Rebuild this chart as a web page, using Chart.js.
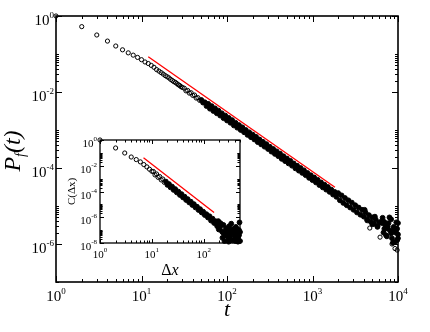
<!DOCTYPE html>
<html>
<head>
<meta charset="utf-8">
<script src="https://cdn.jsdelivr.net/npm/chart.js@4.4.1/dist/chart.umd.min.js"></script>
<style>
  body { margin: 0; background: #fff; }
  #wrap { position: relative; width: 430px; height: 332px; }
  #main { position: absolute; left: 0; top: 0; }
  #inset { position: absolute; left: 60px; top: 125px; }
</style>
</head>
<body>
<div id="wrap">
  <canvas id="main" width="430" height="332"></canvas>
  <canvas id="inset" width="190" height="160"></canvas>
</div>
<script>
// main panel: P_f(t), values read as log10 of t and of P
const mainLogT = [
  0, 0.301, 0.477, 0.602, 0.699, 0.778, 0.845, 0.903, 0.954, 1,
  1.041, 1.079, 1.114, 1.146, 1.176, 1.204, 1.23, 1.255, 1.279, 1.301,
  1.322, 1.342, 1.362, 1.38, 1.398, 1.415, 1.431, 1.447, 1.462, 1.477,
  1.50, 1.52, 1.54, 1.56, 1.58, 1.60, 1.62, 1.64, 1.66, 1.68,
  1.70, 1.72, 1.74, 1.76, 1.78, 1.80, 1.82, 1.84, 1.86, 1.88,
  1.90, 1.92, 1.94, 1.96, 1.98, 2.00, 2.02, 2.04, 2.06, 2.08,
  2.10, 2.12, 2.14, 2.16, 2.18, 2.20, 2.22, 2.24, 2.26, 2.28,
  2.30, 2.32, 2.34, 2.36, 2.38, 2.40, 2.42, 2.44, 2.46, 2.48,
  2.50, 2.52, 2.54, 2.56, 2.58, 2.60, 2.62, 2.64, 2.66, 2.68,
  2.70, 2.72, 2.74, 2.76, 2.78, 2.80, 2.82, 2.84, 2.86, 2.88,
  2.90, 2.92, 2.94, 2.96, 2.98, 3.00, 3.02, 3.04, 3.06, 3.08,
  3.10, 3.12, 3.14, 3.16, 3.18, 3.20, 3.22, 3.24, 3.26, 3.28,
  3.30, 3.32, 3.34, 3.36, 3.38, 3.40, 3.42, 3.44, 3.46, 3.48,
  3.50, 3.52, 3.54, 3.56, 3.58, 3.60, 3.62, 3.64, 3.66, 3.68,
  3.70, 3.72, 3.74, 3.76, 3.78, 3.80, 3.82, 3.84, 3.86, 3.88,
  3.90, 3.92, 3.94, 3.96, 3.98, 4.00,
  3.61, 3.64, 3.70, 3.73, 3.76, 3.81, 3.83, 3.84, 3.85, 3.87, 3.88, 3.89,
  3.91, 3.92, 3.93, 3.95, 3.96, 3.97, 3.99, 3.99, 4.0, 4.0
];
const mainLogP = [
  0, -0.28, -0.50, -0.66, -0.79, -0.89, -0.97, -1.03, -1.09, -1.15,
  -1.21, -1.25, -1.30, -1.35, -1.41, -1.45, -1.49, -1.53, -1.57, -1.60,
  -1.63, -1.67, -1.70, -1.73, -1.75, -1.78, -1.81, -1.83, -1.86, -1.88,
  -1.90, -1.97, -1.96, -2.03, -2.02, -2.09, -2.08, -2.16, -2.15, -2.22,
  -2.21, -2.28, -2.27, -2.37, -2.31, -2.44, -2.37, -2.50, -2.43, -2.56,
  -2.49, -2.62, -2.56, -2.69, -2.62, -2.75, -2.68, -2.81, -2.74, -2.88,
  -2.81, -2.94, -2.87, -3.00, -2.93, -3.06, -3.00, -3.13, -3.06, -3.19,
  -3.12, -3.25, -3.18, -3.32, -3.25, -3.38, -3.31, -3.44, -3.37, -3.50,
  -3.44, -3.57, -3.50, -3.63, -3.56, -3.69, -3.62, -3.76, -3.69, -3.82,
  -3.75, -3.88, -3.81, -3.94, -3.88, -4.01, -3.94, -4.07, -4.00, -4.13,
  -4.06, -4.19, -4.13, -4.26, -4.19, -4.32, -4.25, -4.38, -4.31, -4.45,
  -4.38, -4.51, -4.44, -4.57, -4.50, -4.63, -4.57, -4.70, -4.63, -4.76,
  -4.66, -4.85, -4.72, -4.92, -4.79, -4.98, -4.85, -5.04, -4.91, -5.10,
  -4.98, -5.17, -5.04, -5.23, -5.10, -5.28, -5.17, -5.35, -5.24, -5.41,
  -5.30, -5.47, -5.36, -5.53, -5.43, -5.42, -5.31, -5.60, -5.77, -5.54,
  -5.30, -5.72, -5.97, -5.61, -5.43, -5.85,
  -5.10, -5.38, -5.48, -5.28, -5.55, -5.45, -5.70, -5.42, -5.50, -5.80, -5.60, -5.45,
  -5.65, -5.35, -5.85, -5.55, -5.95, -5.70, -5.90, -5.60, -5.45, -5.75
];
// isolated circles under the tail
const mainOutLogT = [3.67, 3.79, 3.93, 3.965, 3.99];
const mainOutLogP = [-5.58, -5.82, -6.00, -6.12, -6.16];
// red guide line (t, P)
const mainGuideT = [12, 1830];
const mainGuideP = [8.5e-2, 3.1e-5];

// inset: C(dx), values as log10
const insetLogX = [
  0, 0.301, 0.477, 0.602, 0.699, 0.778, 0.845, 0.903, 0.954, 1,
  1.03, 1.06, 1.09, 1.12, 1.15, 1.18, 1.21, 1.24, 1.27, 1.30,
  1.33, 1.36, 1.39, 1.42, 1.45, 1.48, 1.51, 1.54, 1.57, 1.60,
  1.63, 1.66, 1.69, 1.72, 1.75, 1.78, 1.81, 1.84, 1.87, 1.90,
  1.93, 1.96, 1.99, 2.02, 2.05, 2.08, 2.11, 2.14, 2.17, 2.20,
  2.23, 2.26, 2.29, 2.32, 2.35, 2.38, 2.41, 2.44, 2.47, 2.50,
  2.53, 2.56, 2.59, 2.62, 2.65, 2.68,
  2.70, 2.69, 2.66, 2.58, 2.52, 2.45, 2.67, 2.40, 2.55,
  2.25, 2.28, 2.31, 2.34, 2.37, 2.43, 2.46, 2.49, 2.51, 2.54,
  2.57, 2.60, 2.63, 2.66, 2.68, 2.70, 2.64, 2.61, 2.48, 2.36
];
const insetLogC = [
  0, -0.62, -1.01, -1.32, -1.52, -1.70, -1.91, -2.09, -2.27, -2.43,
  -2.45, -2.71, -2.64, -2.90, -2.84, -3.10, -3.03, -3.29, -3.23, -3.49,
  -3.42, -3.68, -3.62, -3.88, -3.81, -4.07, -4.01, -4.27, -4.20, -4.46,
  -4.40, -4.66, -4.59, -4.85, -4.79, -5.05, -4.98, -5.24, -5.18, -5.44,
  -5.37, -5.63, -5.57, -5.83, -5.76, -6.02, -5.92, -6.26, -6.11, -6.45,
  -6.31, -6.70, -6.95, -6.45, -7.10, -6.60, -7.40, -6.85, -7.60, -7.05,
  -6.50, -7.80, -7.25, -6.75, -7.55, -7.00,
  -7.85, -6.40, -7.90, -6.90, -7.75, -7.30, -7.30, -7.85, -7.10,
  -6.50, -6.30, -6.80, -6.55, -7.20, -6.90, -7.05, -6.70, -7.45, -7.20,
  -6.95, -7.50, -7.20, -7.60, -7.40, -7.15, -6.90, -7.85, -7.90, -7.60
];
const insetGuideX = [6.9, 158];
const insetGuideC = [4.2e-2, 2.3e-6];

const mainXMajor = [1, 10, 100, 1000, 10000];
const mainYMajor = [1, 1e-2, 1e-4, 1e-6];
const insetXMajor = [1, 10, 100];
const insetYMajor = [1, 1e-2, 1e-4, 1e-6, 1e-8];

const serif = '"Liberation Serif", "DejaVu Serif", serif';

function toPoints(lx, ly) {
  return lx.map((v, i) => ({ x: Math.pow(10, v), y: Math.pow(10, ly[i]) }));
}
function pairs(xs, ys) {
  return xs.map((v, i) => ({ x: v, y: ys[i] }));
}

// minor ticks: 2..9 in every decade on x, 2..10 x 10^(lower) per two-decade step on y
function decadeMinors(lo, hi) {
  const out = [];
  for (let d = lo; d < hi; d *= 10) {
    for (let k = 2; k <= 9; k++) if (k * d <= hi) out.push(k * d);
  }
  return out;
}
function twoDecadeMinors(majors) {
  const out = [];
  for (let i = 0; i < majors.length - 1; i++) {
    const low = majors[i + 1];
    for (let k = 2; k <= 10; k++) out.push(k * low);
  }
  return out;
}

function powLabel(ctx, x, y, exp, st, align) {
  ctx.font = st.base;
  const w1 = ctx.measureText('10').width;
  ctx.font = st.sup;
  const w2 = ctx.measureText(exp).width;
  const x0 = align === 'center' ? x - (w1 + w2) / 2 : x - (w1 + w2);
  ctx.textAlign = 'left';
  ctx.textBaseline = 'alphabetic';
  ctx.font = st.base;
  ctx.fillText('10', x0, y);
  ctx.font = st.sup;
  ctx.fillText(exp, x0 + w1, y - st.rise);
}

function axesPlugin(o) {
  return {
    id: 'frame',
    beforeDraw(chart) {
      const a = chart.chartArea, ctx = chart.ctx;
      ctx.save();
      ctx.fillStyle = '#fff';
      ctx.fillRect(a.left, a.top, a.right - a.left, a.bottom - a.top);
      ctx.restore();
    },
    beforeDatasetsDraw(chart) {
      const a = chart.chartArea, ctx = chart.ctx;
      const xs = chart.scales.x, ys = chart.scales.y;
      ctx.save();
      ctx.strokeStyle = '#000';
      ctx.lineWidth = 1;
      ctx.beginPath();
      const xt = (v, len) => {
        const p = Math.round(xs.getPixelForValue(v)) + 0.5;
        ctx.moveTo(p, a.bottom); ctx.lineTo(p, a.bottom - len);
        ctx.moveTo(p, a.top); ctx.lineTo(p, a.top + len);
      };
      const yt = (v, len) => {
        const p = Math.round(ys.getPixelForValue(v)) + 0.5;
        ctx.moveTo(a.left, p); ctx.lineTo(a.left + len, p);
        ctx.moveTo(a.right, p); ctx.lineTo(a.right - len, p);
      };
      o.xMajor.forEach(v => xt(v, o.major));
      o.xMinor.forEach(v => xt(v, o.minor));
      o.yMajor.forEach(v => yt(v, o.major));
      o.yMinor.forEach(v => yt(v, o.minor));
      ctx.stroke();
      ctx.lineWidth = o.frame;
      ctx.strokeRect(a.left, a.top, a.right - a.left, a.bottom - a.top);
      ctx.restore();
    },
    afterDraw(chart) {
      const ctx = chart.ctx, a = chart.chartArea;
      const xs = chart.scales.x, ys = chart.scales.y;
      ctx.save();
      ctx.fillStyle = '#000';
      o.xMajor.forEach(v => {
        powLabel(ctx, xs.getPixelForValue(v), o.xLabelY, String(Math.round(Math.log10(v))), o.lab, 'center');
      });
      o.yMajor.forEach(v => {
        powLabel(ctx, o.yLabelX, ys.getPixelForValue(v) + o.yLabelDy, String(Math.round(Math.log10(v))), o.lab, 'right');
      });
      o.titles(ctx, a);
      ctx.restore();
    }
  };
}

function logScale(min, max) {
  return { type: 'logarithmic', min: min, max: max, display: false };
}

// overlapping circles become a solid band where the points crowd together
function circles(denseFrom) {
  const dense = c => c.raw && c.raw.x > denseFrom;
  return {
    pointStyle: 'circle', borderWidth: 1, borderColor: '#000',
    pointRadius: c => (dense(c) ? 2.4 : 2.1),
    backgroundColor: c => (dense(c) ? '#000' : 'rgba(0,0,0,0)'),
    clip: false
  };
}

new Chart(document.getElementById('main'), {
  type: 'scatter',
  data: {
    datasets: [
      Object.assign({ data: toPoints(mainLogT, mainLogP) }, circles(50)),
      Object.assign({ data: toPoints(mainOutLogT, mainOutLogP) }, circles(1e9)),
      { data: pairs(mainGuideT, mainGuideP), showLine: true, pointRadius: 0,
        borderColor: '#ff0000', borderWidth: 1.3 }
    ]
  },
  options: {
    responsive: false, animation: false, devicePixelRatio: 1,
    layout: { padding: { left: 56, right: 32, top: 16, bottom: 50 } },
    scales: { x: logScale(1, 10000), y: logScale(1e-7, 1) },
    plugins: { legend: { display: false }, tooltip: { enabled: false } }
  },
  plugins: [axesPlugin({
    xMajor: mainXMajor, xMinor: decadeMinors(1, 10000),
    yMajor: mainYMajor, yMinor: twoDecadeMinors([1, 1e-2, 1e-4, 1e-6]).concat([1e-7]),
    major: 6, minor: 3, frame: 1.6,
    xLabelY: 301, yLabelX: 54, yLabelDy: 9,
    lab: { base: '15px ' + serif, sup: '9px ' + serif, rise: 7 },
    titles(ctx, a) {
      ctx.save();
      ctx.translate(20, 151);
      ctx.rotate(-Math.PI / 2);
      ctx.font = 'italic 24px ' + serif;
      const wp = ctx.measureText('P').width, wt = ctx.measureText('(t)').width;
      ctx.font = 'italic 14px ' + serif;
      const wf = ctx.measureText('f').width;
      let x = -(wp + wf + wt) / 2;
      ctx.font = 'italic 24px ' + serif;
      ctx.fillText('P', x, 0);
      ctx.font = 'italic 14px ' + serif;
      ctx.fillText('f', x + wp, 5);
      ctx.font = 'italic 24px ' + serif;
      ctx.fillText('(t)', x + wp + wf, 0);
      ctx.restore();
      ctx.font = 'italic 22px ' + serif;
      ctx.textAlign = 'center';
      ctx.fillText('t', (a.left + a.right) / 2, 316);
    }
  })]
});

new Chart(document.getElementById('inset'), {
  type: 'scatter',
  data: {
    datasets: [
      Object.assign({ data: toPoints(insetLogX, insetLogC) }, circles(18)),
      { data: pairs(insetGuideX, insetGuideC), showLine: true, pointRadius: 0,
        borderColor: '#ff0000', borderWidth: 1.3 }
    ]
  },
  options: {
    responsive: false, animation: false, devicePixelRatio: 1,
    layout: { padding: { left: 40, right: 10, top: 15, bottom: 42 } },
    scales: { x: logScale(1, 500), y: logScale(1e-8, 1) },
    plugins: { legend: { display: false }, tooltip: { enabled: false } }
  },
  plugins: [axesPlugin({
    xMajor: insetXMajor, xMinor: decadeMinors(1, 500),
    yMajor: insetYMajor, yMinor: twoDecadeMinors(insetYMajor),
    major: 4, minor: 2.5, frame: 1.3,
    xLabelY: 133, yLabelX: 37, yLabelDy: 7,
    lab: { base: '11px ' + serif, sup: '7px ' + serif, rise: 6 },
    titles(ctx, a) {
      ctx.font = '16px ' + serif;
      const wd = ctx.measureText('\u0394').width;
      ctx.font = 'italic 16px ' + serif;
      const wx = ctx.measureText('x').width;
      const x0 = (a.left + a.right) / 2 - (wd + wx) / 2;
      ctx.textAlign = 'left';
      ctx.font = '16px ' + serif;
      ctx.fillText('\u0394', x0, 150);
      ctx.font = 'italic 16px ' + serif;
      ctx.fillText('x', x0 + wd, 150);
      ctx.save();
      ctx.translate(15, (a.top + a.bottom) / 2);
      ctx.rotate(-Math.PI / 2);
      ctx.font = '11px ' + serif;
      ctx.textAlign = 'center';
      ctx.fillText('C(\u0394x)', 0, 0);
      ctx.restore();
    }
  })]
});
</script>
</body>
</html>
